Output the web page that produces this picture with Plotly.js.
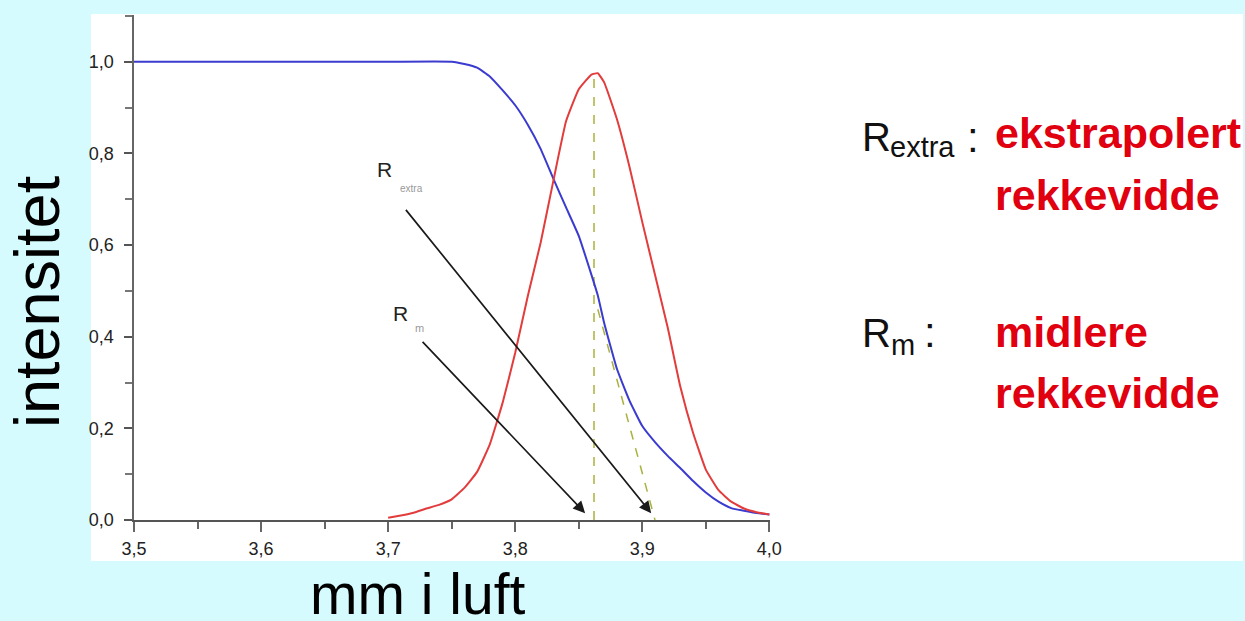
<!DOCTYPE html>
<html>
<head>
<meta charset="utf-8">
<script src="https://cdn.plot.ly/plotly-3.0.1.min.js"></script>
<style>html,body{margin:0;padding:0;background:#d5fbfe;}#chart{width:1245px;height:621px;}</style>
</head>
<body>
<div id="chart"></div>
<script>
// Transmitted intensity (blue) vs range in air
const blueX = [3.50, 3.60, 3.70, 3.75, 3.76, 3.77, 3.78, 3.79, 3.80, 3.81, 3.82, 3.83, 3.84, 3.85, 3.86, 3.865, 3.87, 3.88, 3.89, 3.90, 3.91, 3.92, 3.93, 3.94, 3.95, 3.96, 3.97, 3.98, 3.99, 4.00];
const blueY = [1.0, 1.0, 1.0, 1.0, 0.995, 0.987, 0.968, 0.938, 0.905, 0.862, 0.81, 0.745, 0.682, 0.62, 0.535, 0.49, 0.43, 0.33, 0.26, 0.205, 0.17, 0.14, 0.113, 0.085, 0.06, 0.04, 0.026, 0.02, 0.015, 0.012];
// Range distribution (red)
const redX = [3.70, 3.71, 3.72, 3.73, 3.74, 3.75, 3.76, 3.77, 3.78, 3.79, 3.80, 3.81, 3.82, 3.83, 3.84, 3.85, 3.86, 3.865, 3.87, 3.88, 3.89, 3.90, 3.91, 3.92, 3.93, 3.94, 3.95, 3.96, 3.97, 3.98, 3.99, 4.00];
const redY = [0.005, 0.01, 0.016, 0.025, 0.033, 0.045, 0.07, 0.105, 0.165, 0.255, 0.365, 0.49, 0.605, 0.74, 0.87, 0.94, 0.972, 0.975, 0.955, 0.875, 0.77, 0.65, 0.535, 0.42, 0.29, 0.19, 0.11, 0.065, 0.04, 0.025, 0.017, 0.012];
// Dashed guide lines: mean range (vertical at peak) and extrapolated tangent
const meanLineX = [3.862, 3.862];
const meanLineY = [0, 0.972];
const tangentX = [3.865, 3.910];
const tangentY = [0.46, 0];
// Arrows pointing to R_extra and R_m
const arrowNames = ['R_extra', 'R_m'];
const arrowTailX = [3.713, 3.726];
const arrowTailY = [0.68, 0.392];
const arrowHeadX = [3.907, 3.855];
const arrowHeadY = [0.015, 0.015];
// Axis ticks
const xTicks = [3.5, 3.6, 3.7, 3.8, 3.9, 4.0];
const yTicks = [0.0, 0.2, 0.4, 0.6, 0.8, 1.0];

const traces = [
  {x: meanLineX, y: meanLineY, mode: 'lines', line: {color: '#a9b23e', width: 1.5, dash: 'dash'}, hoverinfo: 'skip'},
  {x: tangentX, y: tangentY, mode: 'lines', line: {color: '#a9b23e', width: 1.5, dash: 'dash'}, hoverinfo: 'skip'},
  {x: blueX, y: blueY, mode: 'lines', line: {color: '#3b3bd0', width: 2, shape: 'spline', smoothing: 0.35}, name: 'intensitet'},
  {x: redX, y: redY, mode: 'lines', line: {color: '#e23c3c', width: 2, shape: 'spline', smoothing: 0.35}, name: 'fordeling'}
];

const F = 'Liberation Sans, Arial, sans-serif';
const annotations = [];
for (let i = 0; i < arrowNames.length; i++) {
  annotations.push({x: arrowHeadX[i], y: arrowHeadY[i], ax: arrowTailX[i], ay: arrowTailY[i],
    xref: 'x', yref: 'y', axref: 'x', ayref: 'y', text: '', showarrow: true,
    arrowhead: 2, arrowsize: 1.4, arrowwidth: 1.7, arrowcolor: '#1a1a1a'});
}
function txt(t, x, y, size, color, opts) {
  return Object.assign({text: t, x: x, y: y, xref: 'paper', yref: 'paper', showarrow: false,
    xanchor: 'left', yanchor: 'middle', font: {family: F, size: size, color: color}}, opts || {});
}
const RED = {family: F, size: 43, color: '#e0000f', weight: 'bold'};
// small labels at arrow tails
annotations.push({text: 'R', x: 3.6973, y: 0.765, xref: 'x', yref: 'y', showarrow: false, font: {family: F, size: 21, color: '#222'}});
annotations.push({text: 'extra', x: 3.7186, y: 0.723, xref: 'x', yref: 'y', showarrow: false, font: {family: F, size: 10, color: '#999'}});
annotations.push({text: 'R', x: 3.710, y: 0.451, xref: 'x', yref: 'y', showarrow: false, font: {family: F, size: 21, color: '#222'}});
annotations.push({text: 'm', x: 3.7248, y: 0.418, xref: 'x', yref: 'y', showarrow: false, font: {family: F, size: 11, color: '#999'}});
// right side legend text
annotations.push(txt('R', 1.1415, 0.7584, 40, '#111'));
annotations.push(txt('extra', 1.1855, 0.7386, 29, '#111'));
annotations.push(txt(':', 1.3066, 0.7584, 42, '#111'));
annotations.push(txt('ekstrapolert', 1.3506, 0.7663, 43, '#e0000f', {font: RED}));
annotations.push(txt('rekkevidde', 1.3506, 0.6436, 43, '#e0000f', {font: RED}));
annotations.push(txt('R', 1.1415, 0.3703, 40, '#111'));
annotations.push(txt('m', 1.1870, 0.3465, 29, '#111'));
annotations.push(txt(':', 1.2390, 0.3703, 42, '#111'));
annotations.push(txt('midlere', 1.3506, 0.3723, 43, '#e0000f', {font: RED}));
annotations.push(txt('rekkevidde', 1.3506, 0.2515, 43, '#e0000f', {font: RED}));
// axis titles
annotations.push({text: 'intensitet', x: -0.1525, y: 0.4317, xref: 'paper', yref: 'paper', showarrow: false, textangle: -90,
  xanchor: 'center', yanchor: 'middle', font: {family: F, size: 63, color: '#000'}});
annotations.push({text: 'mm i luft', x: 0.4465, y: -0.1465, xref: 'paper', yref: 'paper', showarrow: false,
  xanchor: 'center', yanchor: 'middle', font: {family: F, size: 57, color: '#000'}});

const layout = {
  width: 1245, height: 621,
  margin: {l: 134, r: 475, t: 15, b: 101, pad: 0},
  paper_bgcolor: '#d5fbfe',
  plot_bgcolor: 'rgba(0,0,0,0)',
  showlegend: false,
  separators: ', ',
  shapes: [{type: 'rect', xref: 'paper', yref: 'paper', x0: -0.0676, x1: 1.7437, y0: -0.0812, y1: 1.002,
    fillcolor: '#ffffff', line: {width: 0}, layer: 'below'}],
  xaxis: {range: [3.5, 4.0005], tickvals: xTicks, tickformat: '.1f', showgrid: false, zeroline: false,
    showline: true, linecolor: '#555', linewidth: 1.5, ticks: 'outside', ticklen: 10, tickwidth: 2, tickcolor: '#666',
    minor: {dtick: 0.05, ticks: 'outside', ticklen: 7, tickwidth: 2, tickcolor: '#666', showgrid: false},
    tickfont: {family: 'Liberation Sans Narrow, Liberation Sans, Arial', size: 18, color: '#222'}, ticklabelstandoff: 2, fixedrange: true},
  yaxis: {range: [0, 1.102], tickvals: yTicks, tickformat: '.1f', showgrid: false, zeroline: false,
    showline: true, linecolor: '#666', linewidth: 2.5, ticks: 'outside', ticklen: 8, tickwidth: 2, tickcolor: '#555',
    minor: {dtick: 0.1, ticks: 'outside', ticklen: 7, tickwidth: 2, tickcolor: '#777', showgrid: false},
    tickfont: {family: 'Liberation Sans Narrow, Liberation Sans, Arial', size: 18, color: '#222'}, ticklabelstandoff: 6, fixedrange: true},
  annotations: annotations
};
Plotly.newPlot('chart', traces, layout, {displayModeBar: false, staticPlot: true});
</script>
</body>
</html>
